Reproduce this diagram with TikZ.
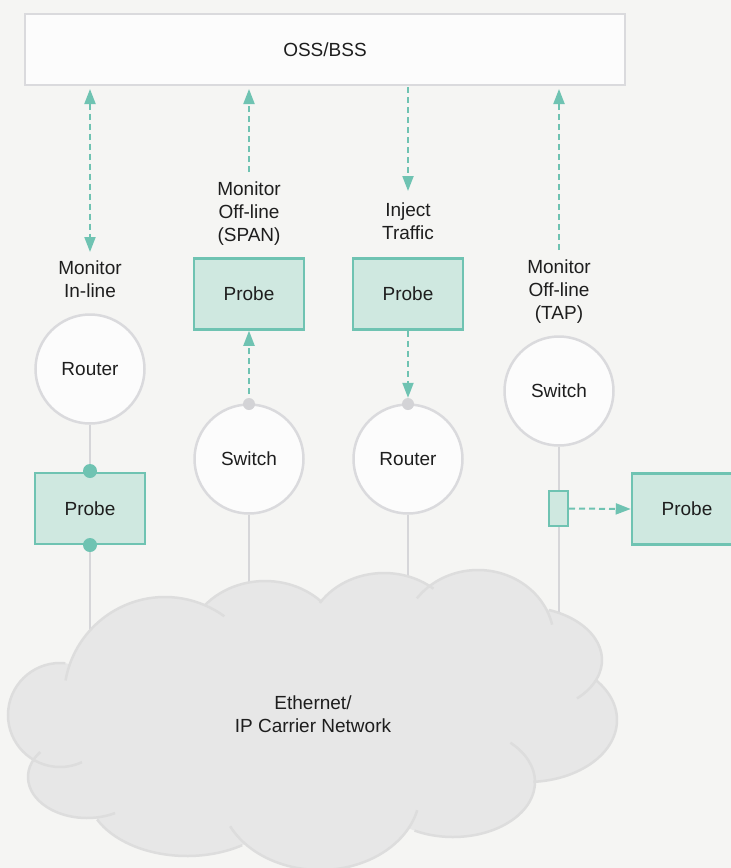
\documentclass[tikz,border=0pt]{standalone}
\usepackage{fontspec}
\setmainfont{Liberation Sans}
\usetikzlibrary{arrows.meta}

\definecolor{paper}{HTML}{F5F5F3}
\definecolor{ink}{HTML}{1E1E1E}
\definecolor{tealline}{HTML}{6FC3B2}
\definecolor{probefill}{HTML}{CFE8E0}
\definecolor{ringgray}{HTML}{DADADD}
\definecolor{devicefill}{HTML}{FCFCFC}
\definecolor{wiregray}{HTML}{D6D6D9}
\definecolor{dotgray}{HTML}{D3D3D6}
\definecolor{cloudfill}{HTML}{E7E7E7}
\definecolor{cloudedge}{HTML}{DDDDDD}

\pgfdeclarelayer{paperlayer}
\pgfdeclarelayer{wirelayer}
\pgfsetlayers{paperlayer,wirelayer,main}

\tikzset{
  txt/.style={font=\fontsize{19}{23}\selectfont, text=ink, inner sep=0pt},
  caption/.style={txt, align=center},
  probebox/.style={txt, draw=tealline, fill=probefill, line width=2.5pt,
    minimum width=110pt, minimum height=71pt},
  device/.style={txt, circle, draw=ringgray, fill=devicefill, line width=2.5pt,
    minimum size=109pt},
  wire/.style={draw=wiregray, line width=2pt},
  flow/.style={draw=tealline, line width=2pt, dash pattern=on 6pt off 4pt},
  headed/.style={-{Triangle[length=15pt,width=11pt]}},
  twoheaded/.style={{Triangle[length=15pt,width=11pt]}-{Triangle[length=15pt,width=11pt]}},
  tealdot/.style={circle, fill=tealline, inner sep=0pt, minimum size=14pt},
  graydot/.style={circle, fill=dotgray, inner sep=0pt, minimum size=12pt},
}

% cloud lobes: centre x / centre y (downwards) / x radius / y radius / start / end angle
\def\lobes{60/715/52/52/84/295,
  87/777/59/41/142.6/298.4,
  187/791/100/65/206/303.5,
  320/792/100/78/206/346.5,
  453/782/82/55/45.6/-118,
  527/720/90/62/40.5/-86,
  520/660/82/53.5/69.3/-46,
  478/640/76/70/143.5/12.7,
  384/640/77/67/146.4/50,
  265/650/79/69/140/44.4,
  165/698/101/101/170/54}

\begin{document}
\begin{tikzpicture}[x=1pt,y=1pt]
\begin{pgfonlayer}{paperlayer}
  \fill[paper] (0,0) rectangle (731,-868);
\end{pgfonlayer}
\useasboundingbox (0,0) rectangle (731,-868);

% management system
\node[txt, draw=ringgray, fill=devicefill, line width=2.5pt,
  minimum width=600pt, minimum height=71pt] (oss) at (325,-49.5) {OSS/BSS};

% captions
\node[caption] (l1) at (90,-279) {Monitor\\In-line};
\node[caption] (l2) at (249,-214) {Monitor\\Off-line\\(SPAN)};
\node[caption] (l3) at (408,-221) {Inject\\Traffic};
\node[caption] (l4) at (559,-292) {Monitor\\Off-line\\(TAP)};

% devices
\node[device] (r1) at (90,-369) {Router};
\node[device] (s2) at (249,-459) {Switch};
\node[device] (r3) at (408,-459) {Router};
\node[device] (s4) at (559,-391) {Switch};

% probes
\node[probebox] (p1) at (90,-508.5) {Probe};
\node[probebox] (p2) at (249,-294) {Probe};
\node[probebox] (p3) at (408,-294) {Probe};
\node[probebox] (p4) at (687,-509) {Probe};
\node[draw=tealline, fill=probefill, line width=2pt, minimum width=19pt,
  minimum height=35pt, inner sep=0pt] (tap) at (558.5,-508.5) {};

% arrow end points
\coordinate (a1t) at (90,-89);   \coordinate (a1b) at (90,-252);
\coordinate (a2t) at (249,-89);  \coordinate (a2b) at (249,-172);
\coordinate (a3t) at (408,-87);  \coordinate (a3b) at (408,-191);
\coordinate (a4t) at (559,-89);  \coordinate (a4b) at (559,-250);
\coordinate (c1) at (90,-650);
\coordinate (c2) at (249,-630);
\coordinate (c3) at (408,-630);
\coordinate (c4) at (559,-660);

% wiring down into the network
\begin{pgfonlayer}{wirelayer}
  \draw[wire] (r1.south) -- (p1.north);
  \draw[wire] (p1.south) -- (c1);
  \draw[wire] (s2.south) -- (c2);
  \draw[wire] (r3.south) -- (c3);
  \draw[wire] (s4.south) -- (c4);
\end{pgfonlayer}

% attachment points
\node[tealdot] (d1t) at (90,-471) {};
\node[tealdot] (d1b) at (90,-545) {};
\node[graydot] (d2) at (249,-404) {};
\node[graydot] (d3) at (408,-404) {};

% management flows
\draw[flow, twoheaded] (a1t) -- (a1b);
\draw[flow, headed] (a2b) -- (a2t);
\draw[flow, headed] (a3t) -- (a3b);
\draw[flow, headed] (a4b) -- (a4t);

% traffic flows
\begin{pgfonlayer}{wirelayer}
  \draw[flow, headed] (d2.center) -- (p2.south);
\end{pgfonlayer}
\draw[flow, headed] (p3.south) -- (d3.north);
\draw[flow, headed] (tap.east) -- (p4.west);

% carrier network cloud
\foreach \cx/\cy/\rx/\ry/\a/\b in \lobes {
  \fill[cloudfill] (\cx,-\cy) ellipse[x radius=\rx pt, y radius=\ry pt];
}
\fill[cloudfill] (165,-698) -- (265,-650) -- (384,-640) -- (478,-640)
  -- (520,-660) -- (527,-720) -- (453,-782) -- (320,-792) -- (187,-791)
  -- (87,-777) -- (60,-715) -- cycle;
\foreach \cx/\cy/\rx/\ry/\a/\b in \lobes {
  \draw[cloudedge, line width=2.5pt] (\cx,-\cy) ++(\a:\rx pt and \ry pt)
    arc[start angle=\a, end angle=\b, x radius=\rx pt, y radius=\ry pt];
}
\node[caption] (net) at (313,-714) {Ethernet/\\IP Carrier Network};
\end{tikzpicture}
\end{document}
